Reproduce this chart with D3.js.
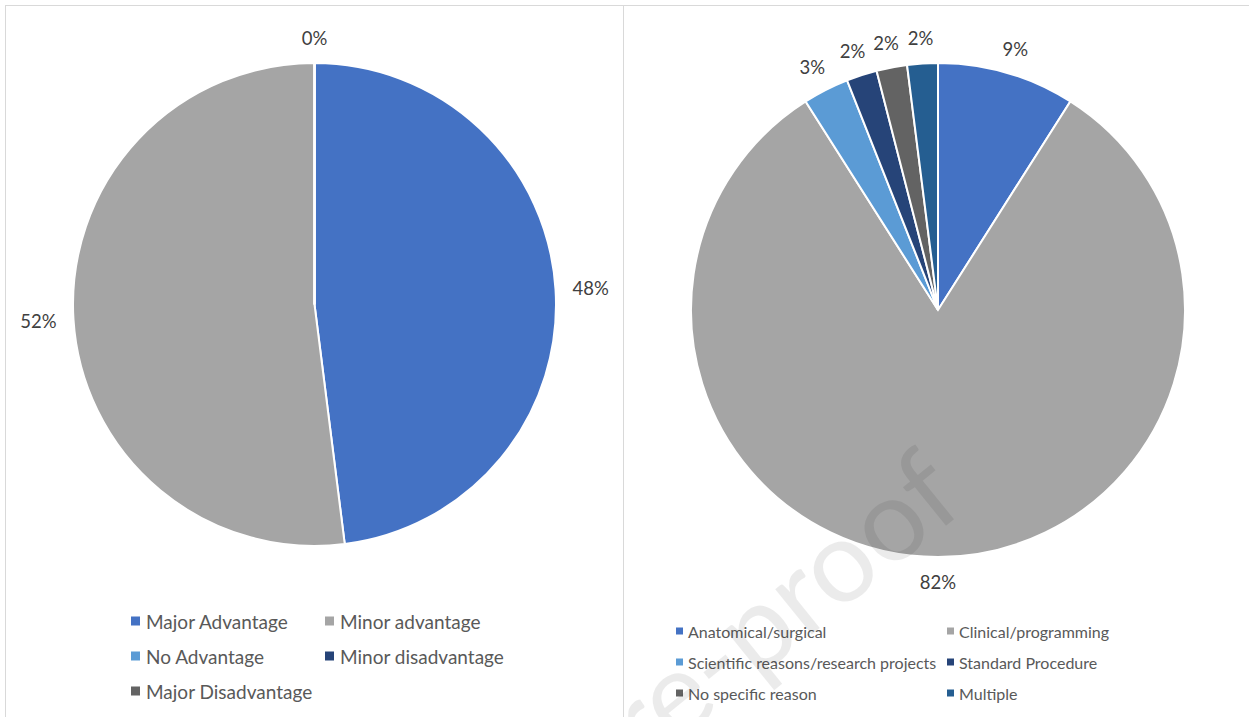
<!DOCTYPE html>
<html>
<head>
<meta charset="utf-8">
<script src="https://cdn.jsdelivr.net/npm/d3@7"></script>
<style>
  html, body { margin: 0; padding: 0; background: #fff; }
  svg { display: block; font-family: Lato, "Open Sans", sans-serif; }
</style>
</head>
<body>
<svg id="chart" width="1249" height="717"></svg>
<script>
// Perceived advantage of the approach (left pie)
const advantageCategories = ["Major Advantage", "Minor advantage", "No Advantage", "Minor disadvantage", "Major Disadvantage"];
const advantageValues = [48, 52, 0, 0, 0];
const advantageColors = ["#4472c4", "#a5a5a5", "#5b9bd5", "#264478", "#636363"];

// Reasons given (right pie)
const reasonCategories = ["Anatomical/surgical", "Clinical/programming", "Scientific reasons/research projects", "Standard Procedure", "No specific reason", "Multiple"];
const reasonValues = [9, 82, 3, 2, 2, 2];
const reasonColors = ["#4472c4", "#a5a5a5", "#5b9bd5", "#264478", "#636363", "#255e91"];

const svg = d3.select("#chart");

// panel frames
const frame = svg.append("g").attr("fill", "none").attr("stroke", "#d9d9d9").attr("stroke-width", 1);
frame.append("line").attr("x1", 5).attr("x2", 1249).attr("y1", 5.5).attr("y2", 5.5);
frame.append("line").attr("x1", 5.5).attr("x2", 5.5).attr("y1", 5).attr("y2", 717);
frame.append("line").attr("x1", 623.5).attr("x2", 623.5).attr("y1", 5).attr("y2", 717);

function drawPie(cfg) {
  const g = svg.append("g").attr("transform", `translate(${cfg.cx},${cfg.cy})`);
  const pie = d3.pie().sort(null).value(d => d.value);
  const arcs = pie(cfg.cats.map((c, i) => ({ cat: c, value: cfg.values[i], color: cfg.colors[i] })));
  const total = d3.sum(cfg.values);
  const arc = d3.arc().innerRadius(0).outerRadius(cfg.r);

  g.selectAll("path.slice").data(arcs).join("path")
    .attr("class", "slice")
    .attr("d", arc)
    .attr("fill", d => d.data.color)
    .attr("stroke", "#fff")
    .attr("stroke-width", 2)
    .attr("stroke-linejoin", "miter");

  // outside-end data labels, one per distinct position
  const seen = new Set();
  arcs.forEach(d => {
    const mid = (d.startAngle + d.endAngle) / 2;
    const key = mid.toFixed(4);
    if (seen.has(key)) return;
    seen.add(key);
    const t = g.append("text")
      .attr("font-size", cfg.labelSize)
      .attr("fill", "#404040")
      .attr("text-anchor", "middle")
      .attr("dominant-baseline", "central")
      .text(d3.format(".0%")(d.data.value / total));
    const w = t.node().getComputedTextLength();
    const h = cfg.labelSize * 0.9;
    const sx = Math.sin(mid), sy = -Math.cos(mid);
    const rr = cfg.r + cfg.gap;
    t.attr("x", sx * rr + sx * w / 2).attr("y", sy * rr + sy * h / 2);
  });

  // legend
  const lg = svg.append("g").attr("font-size", cfg.legendSize).attr("fill", "#595959");
  cfg.cats.forEach((c, i) => {
    const col = i % 2, row = Math.floor(i / 2);
    const x = cfg.legendX[col], y = cfg.legendY + row * cfg.legendStep;
    lg.append("rect")
      .attr("x", x).attr("y", y - cfg.sw / 2)
      .attr("width", cfg.sw).attr("height", cfg.sw)
      .attr("fill", cfg.colors[i]);
    lg.append("text")
      .attr("x", x + cfg.sw + cfg.textGap).attr("y", y)
      .attr("dominant-baseline", "central")
      .text(c);
  });
}

drawPie({
  cats: advantageCategories, values: advantageValues, colors: advantageColors,
  cx: 314.5, cy: 304.5, r: 241.5, gap: 17, labelSize: 18.5,
  legendX: [131, 325], legendY: 621, legendStep: 35, legendSize: 19, sw: 9, textGap: 6
});

drawPie({
  cats: reasonCategories, values: reasonValues, colors: reasonColors,
  cx: 938, cy: 310, r: 247, gap: 17, labelSize: 18.5,
  legendX: [676, 947], legendY: 631, legendStep: 31, legendSize: 16, sw: 7, textGap: 5
});

// faint diagonal watermark over the right panel
svg.append("clipPath").attr("id", "right-panel")
  .append("rect").attr("x", 624).attr("y", 6).attr("width", 625).attr("height", 711);
svg.append("g")
  .attr("clip-path", "url(#right-panel)")
  .append("text")
  .attr("transform", "translate(968,508) rotate(-39)")
  .attr("text-anchor", "end")
  .attr("font-size", 115)
  .attr("font-weight", 400)
  .attr("fill", "#000")
  .attr("fill-opacity", 0.08)
  .text("Journal Pre-proof");
</script>
</body>
</html>
